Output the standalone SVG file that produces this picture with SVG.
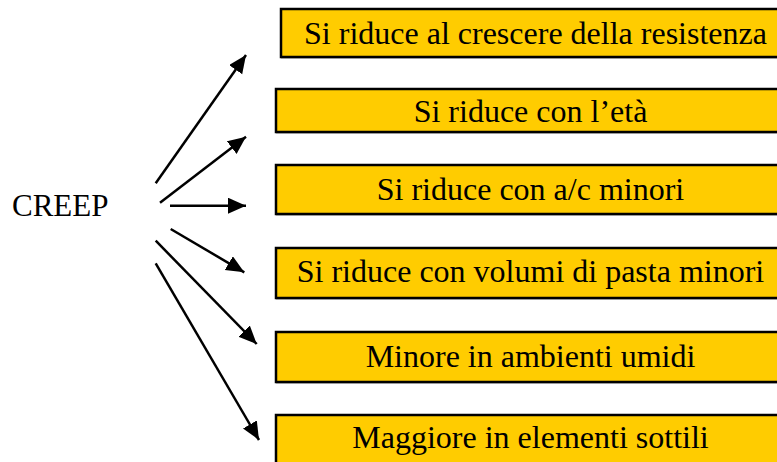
<svg xmlns="http://www.w3.org/2000/svg" width="777" height="462" viewBox="0 0 777 462">
<style>
.box{fill:#FFCC00;stroke:#000;stroke-width:2.5}
.sh{stroke:#999;stroke-width:1;fill:none}
.t{font-size:32px;fill:#000;text-anchor:middle}
.c{stroke:#000;stroke-width:2.5;fill:none}
</style>
<defs>
<marker id="ah" markerUnits="userSpaceOnUse" markerWidth="20" markerHeight="18" refX="18" refY="8" orient="auto">
<path d="M0,0 L18,8 L0,16 z" fill="#000"/>
</marker>
</defs>
<rect width="777" height="462" fill="#fff"/>
<g font-family="'Liberation Serif', 'Times New Roman', 'DejaVu Serif', serif">
<g id="creep"><text class="t" x="12" y="216" style="text-anchor:start;font-size:31px">CREEP</text></g>
<g id="n1"><rect class="box" x="281" y="9" width="510" height="48"/><line class="sh" x1="281" y1="58.5" x2="777" y2="58.5"/><text class="t" x="535.5" y="44">Si riduce al crescere della resistenza</text></g>
<g id="n2"><rect class="box" x="276" y="89" width="515" height="43"/><line class="sh" x1="276" y1="133.5" x2="777" y2="133.5"/><text class="t" x="530.5" y="122">Si riduce con l’età</text></g>
<g id="n3"><rect class="box" x="276" y="165" width="515" height="49"/><line class="sh" x1="276" y1="215.5" x2="777" y2="215.5"/><text class="t" x="530.5" y="200">Si riduce con a/c minori</text></g>
<g id="n4"><rect class="box" x="276" y="248" width="515" height="50"/><line class="sh" x1="276" y1="299.5" x2="777" y2="299.5"/><text class="t" x="530.5" y="282">Si riduce con volumi di pasta minori</text></g>
<g id="n5"><rect class="box" x="276" y="332" width="515" height="50"/><line class="sh" x1="276" y1="383.5" x2="777" y2="383.5"/><text class="t" x="530.5" y="367">Minore in ambienti umidi</text></g>
<g id="n6"><rect class="box" x="276" y="415" width="515" height="60"/><text class="t" x="530.5" y="448">Maggiore in elementi sottili</text></g>
</g>
<g id="connectors">
<line class="c" x1="155.7" y1="183.3" x2="246" y2="55" marker-end="url(#ah)"/>
<line class="c" x1="160" y1="202.7" x2="246" y2="136.7" marker-end="url(#ah)"/>
<line class="c" x1="170" y1="205.7" x2="246" y2="205.7" marker-end="url(#ah)"/>
<line class="c" x1="170.7" y1="229" x2="244.3" y2="272.3" marker-end="url(#ah)"/>
<line class="c" x1="155.7" y1="240.7" x2="256.7" y2="344" marker-end="url(#ah)"/>
<line class="c" x1="155.7" y1="263.3" x2="259" y2="440" marker-end="url(#ah)"/>
</g>
</svg>
